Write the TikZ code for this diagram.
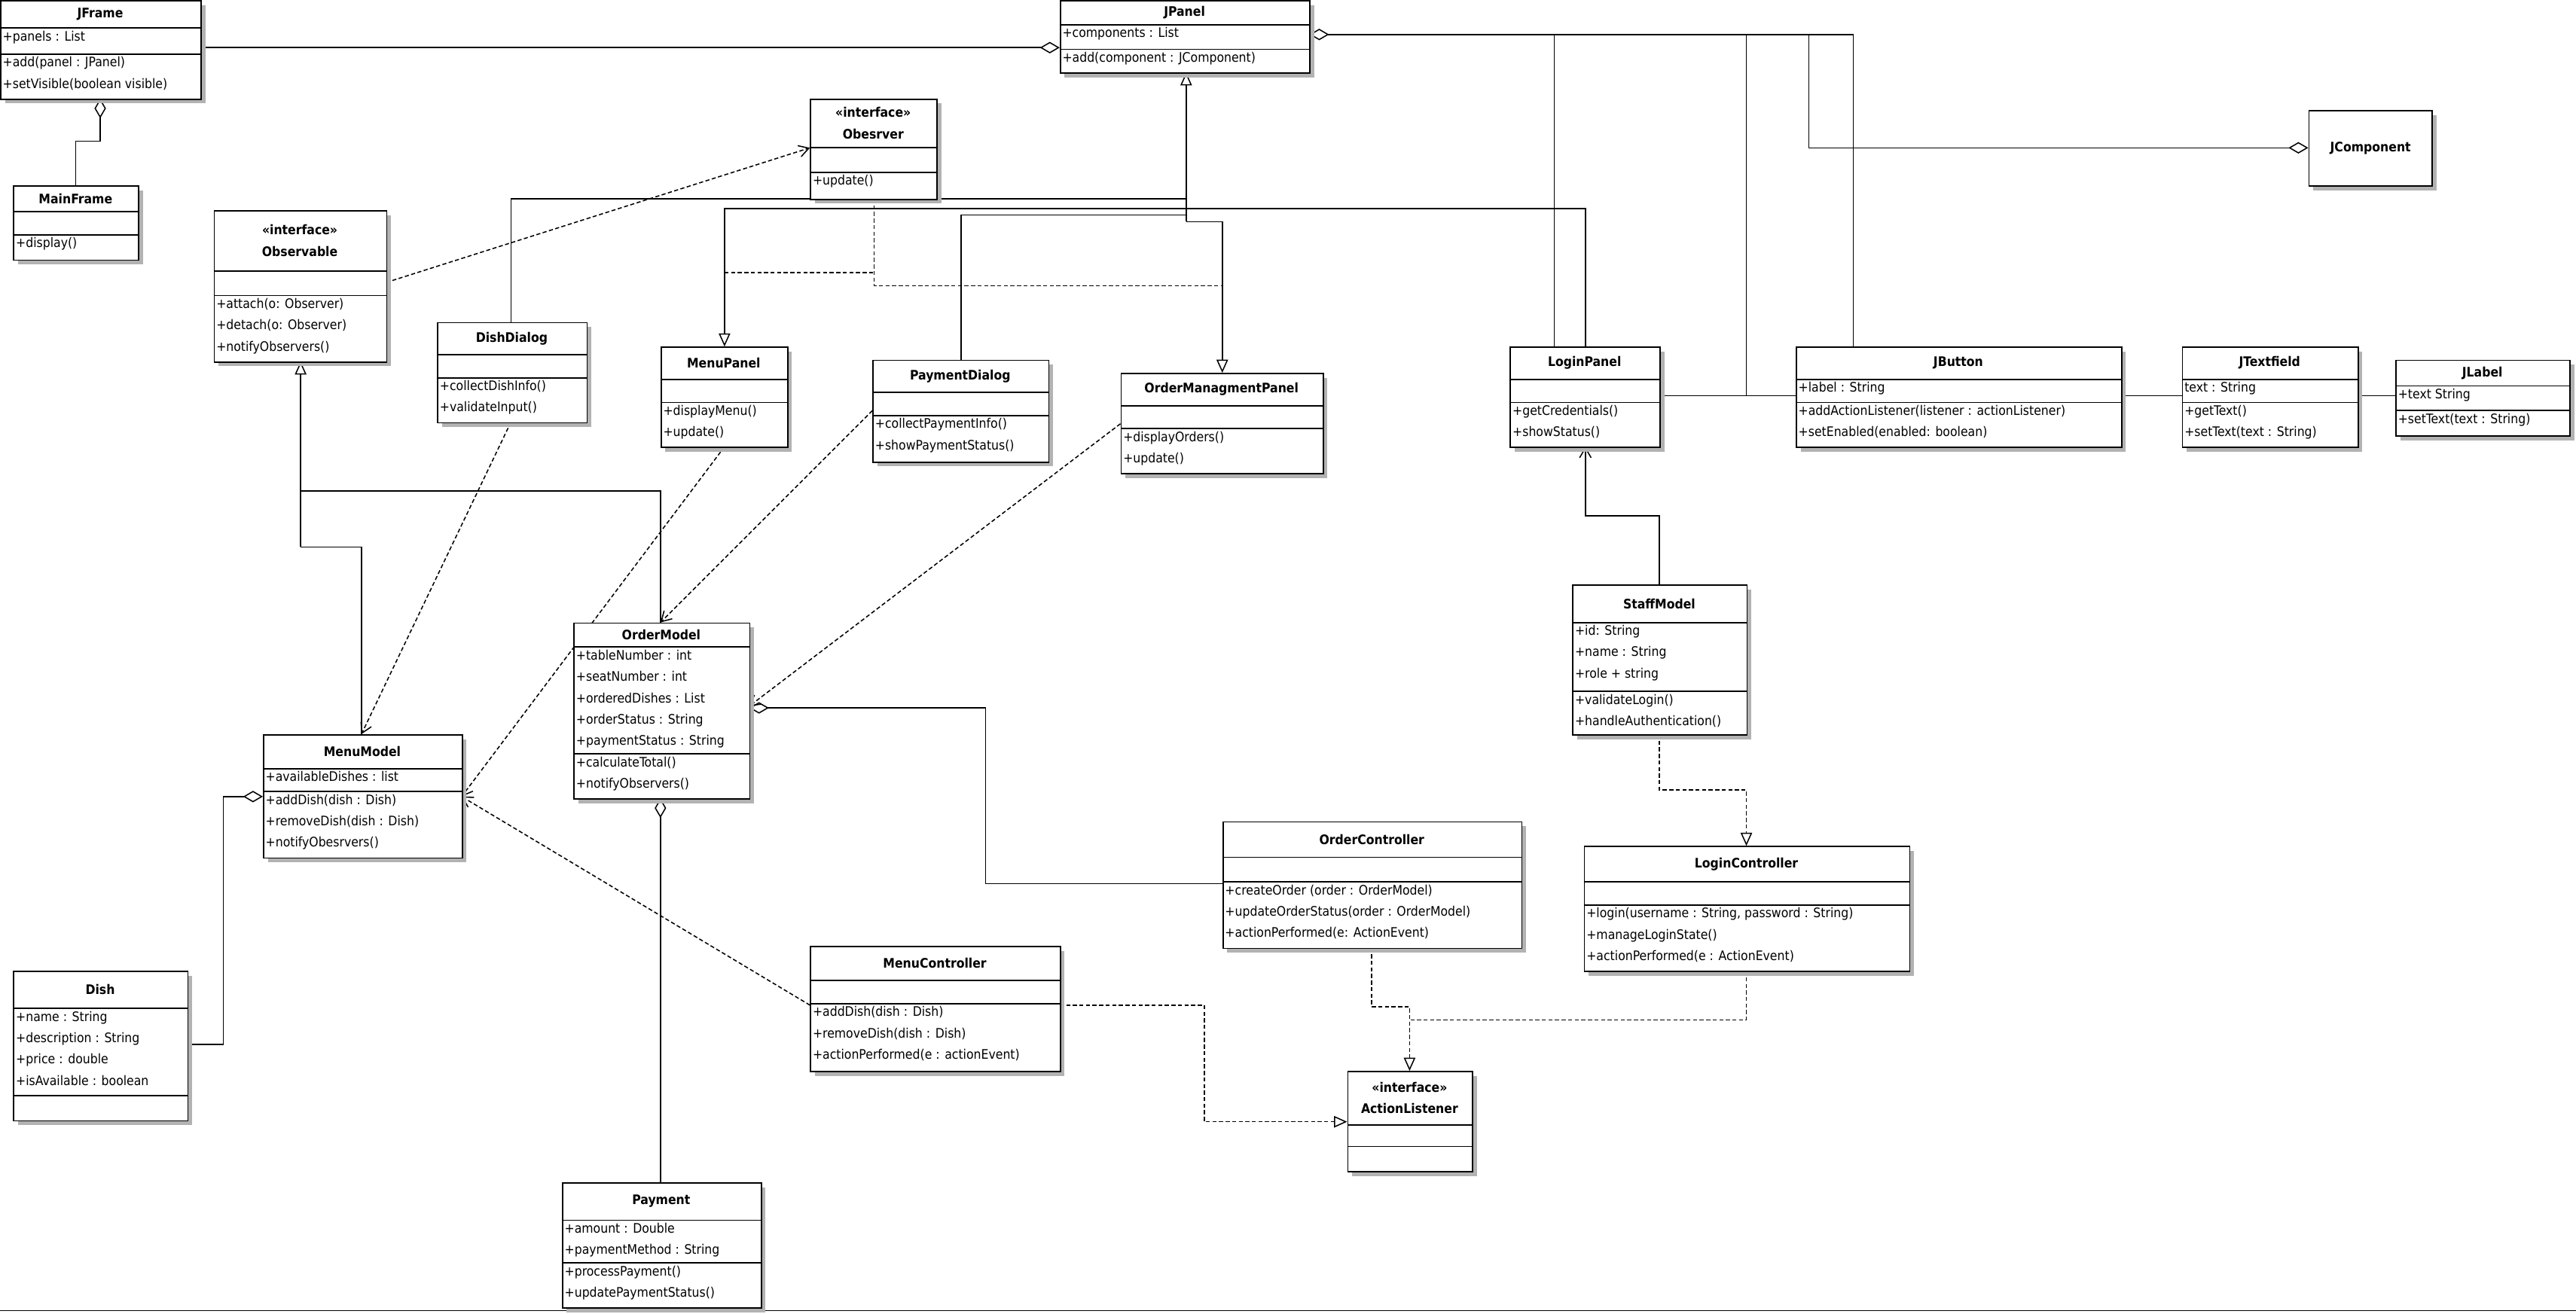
\documentclass[tikz,border=0pt]{standalone}
\usepackage{fontspec}
\setmainfont{DejaVu Sans Condensed}
\usetikzlibrary{arrows.meta,calc}
\tikzset{
  box/.style={draw,line width=0.8pt,fill=white,inner sep=0pt,anchor=north west},
  shad/.style={fill=black!30,draw=none},
  txt/.style={anchor=north west,align=left,inner sep=1pt,font=\fontsize{8}{13}\selectfont},
  ttl/.style={align=center,inner sep=0pt,font=\fontsize{8}{13}\selectfont\bfseries},
  ln/.style={line width=0.7pt},
  dsh/.style={line width=0.7pt,dash pattern=on 2.5pt off 1.5pt},
  gen/.style={-{Triangle[open,length=8pt,width=7pt]}},
  agg/.style={-{Diamond[open,length=12pt,width=7pt]}},
  dep/.style={-{Straight Barb[length=6pt,width=7pt]}}
}
% id x w y1 y2 y3 y4 title attrs
\newcommand\umlc[9]{%
  \fill[shad] (#2+3,#4+3) rectangle (#2+#3+3,#7+3);
  \node[box,minimum width=#3pt,minimum height=#7pt-#4pt] (#1) at (#2,#4) {};
  \draw[line width=0.8pt] (#2,#5) -- (#2+#3,#5) (#2,#6) -- (#2+#3,#6);
  \node[ttl] (#1-t) at (#2+#3/2,{(#4+#5)/2}) {#8};
  \node[txt] (#1-a) at (#2+0.5,#5+0.5) {#9};
  \xdef\lastx{#2}\xdef\lasty{#6}}
\newcommand\umlm[1]{\node[txt] at (\lastx+0.5,\lasty+0.5) {#1};}
\begin{document}
\begin{tikzpicture}[x=1pt,y=-1pt]
\useasboundingbox (0,0) rectangle (1568,800);
\fill[white] (0,0) rectangle (1568,800);
\draw[ln] (0,798) -- (1568,798);

% ---------- connectors ----------
% JFrame - JPanel
\draw[ln,agg] (122,29) -- (645,29);
% MainFrame - JFrame
\draw[ln,agg] (46,113) -- (46,86) -- (61,86) -- (61,60);
% JPanel components
\draw[ln,agg] (1128,211) -- (1128,21) -- (797,21);
\draw[ln] (946,21) -- (946,241) -- (1458,241);
\draw[ln] (1063,21) -- (1063,241);
\draw[ln] (1101,21) -- (1101,90);
\draw[ln,agg] (1101,90) -- (1405,90);
% JPanel generalization tree
\draw[ln,gen] (722,135) -- (722,44);
\draw[ln] (311,196) -- (311,121) -- (722,121);
\draw[ln,gen] (965,211) -- (965,127) -- (441,127) -- (441,211);
\draw[ln] (585,219) -- (585,131) -- (722,131);
\draw[ln,gen] (722,135) -- (744,135) -- (744,227);
% Observable -> Obesrver
\draw[dsh,dep] (235,172) -- (493,90);
\draw[dsh] (441,166) -- (532,166);
\draw[dsh] (532,121) -- (532,174) -- (744,174);
% Observable generalization
\draw[ln,gen] (183,333) -- (183,220);
\draw[ln] (183,333) -- (220,333) -- (220,447);
\draw[ln] (183,299) -- (402,299) -- (402,379);
% dependencies
\draw[dsh,dep] (311,257) -- (220,447);
\draw[dsh,dep] (441,272) -- (281,485);
\draw[dsh,dep] (531,250) -- (402,379);
\draw[dsh,dep] (682,258) -- (456,430);
\draw[dsh,dep] (493,612) -- (281,485);
% aggregations of models
\draw[ln,agg] (744,538) -- (600,538) -- (600,431) -- (456,431);
\draw[ln,agg] (402,720) -- (402,486);
\draw[ln,agg] (114,636) -- (136,636) -- (136,485) -- (160,485);
% StaffModel -> LoginPanel
\draw[ln,dep] (1010,356) -- (1010,314) -- (965,314) -- (965,272);
% StaffModel -> LoginController
\draw[dsh,gen] (1010,447) -- (1010,481) -- (1063,481) -- (1063,515);
% ActionListener realizations
\draw[dsh,gen] (835,577) -- (835,613) -- (858,613) -- (858,652);
\draw[dsh] (1063,591) -- (1063,621) -- (858,621);
\draw[dsh,gen] (645,612) -- (733,612) -- (733,683) -- (820,683);

% ---------- classes ----------
\umlc{jframe}{0}{122}{0}{17}{33}{60}{JFrame}{+panels : List}
\umlm{+add(panel : JPanel)\\+setVisible(boolean visible)}
\umlc{jpanel}{645}{152}{0}{15}{30}{44}{JPanel}{+components : List}
\umlm{+add(component : JComponent)}
\umlc{obs}{493}{77}{60}{90}{105}{121}{\texttt{}\fontsize{8}{12}\selectfont\bfseries <<interface>>\\Obesrver}{}
\umlm{+update()}
\umlc{mainframe}{8}{76}{113}{129}{143}{158}{MainFrame}{}
\umlm{+display()}
\umlc{observable}{130}{105}{128}{165}{180}{220}{<<interface>>\\Observable}{}
\umlm{+attach(o: Observer)\\+detach(o: Observer)\\+notifyObservers()}
\umlc{dishdialog}{266}{91}{196}{216}{230}{257}{DishDialog}{}
\umlm{+collectDishInfo()\\+validateInput()}
\umlc{menupanel}{402}{77}{211}{231}{245}{272}{MenuPanel}{}
\umlm{+displayMenu()\\+update()}
\umlc{paydialog}{531}{107}{219}{239}{253}{281}{PaymentDialog}{}
\umlm{+collectPaymentInfo()\\+showPaymentStatus()}
\umlc{omp}{682}{123}{227}{247}{261}{288}{OrderManagmentPanel}{}
\umlm{+displayOrders()\\+update()}
\umlc{loginpanel}{919}{91}{211}{231}{245}{272}{LoginPanel}{}
\umlm{+getCredentials()\\+showStatus()}
\umlc{jbutton}{1093}{198}{211}{231}{245}{272}{JButton}{+label : String}
\umlm{+addActionListener(listener : actionListener)\\+setEnabled(enabled: boolean)}
\umlc{jtext}{1328}{107}{211}{231}{245}{272}{JTextfield}{text : String}
\umlm{+getText()\\+setText(text : String)}
\umlc{jlabel}{1458}{106}{219}{235}{250}{265}{JLabel}{+text String}
\umlm{+setText(text : String)}
\fill[shad] (1408,70) rectangle (1483,116);
\node[box,minimum width=75pt,minimum height=46pt] (jcomp) at (1405,67) {};
\node[ttl] at (jcomp.center) {JComponent};
\umlc{staff}{957}{106}{356}{379}{421}{447}{StaffModel}{+id: String\\+name : String\\+role + string}
\umlm{+validateLogin()\\+handleAuthentication()}
\umlc{ordermodel}{349}{107}{379}{394}{459}{486}{OrderModel}{+tableNumber : int\\+seatNumber : int\\+orderedDishes : List\\+orderStatus : String\\+paymentStatus : String}
\umlm{+calculateTotal()\\+notifyObservers()}
\umlc{menumodel}{160}{121}{447}{468}{482}{522}{MenuModel}{+availableDishes : list}
\umlm{+addDish(dish : Dish)\\+removeDish(dish : Dish)\\+notifyObesrvers()}
\umlc{orderctrl}{744}{182}{500}{522}{537}{577}{OrderController}{}
\umlm{+createOrder (order : OrderModel)\\+updateOrderStatus(order : OrderModel)\\+actionPerformed(e: ActionEvent)}
\umlc{loginctrl}{964}{198}{515}{537}{551}{591}{LoginController}{}
\umlm{+login(username : String, password : String)\\+manageLoginState()\\+actionPerformed(e : ActionEvent)}
\umlc{menuctrl}{493}{152}{576}{597}{611}{652}{MenuController}{}
\umlm{+addDish(dish : Dish)\\+removeDish(dish : Dish)\\+actionPerformed(e : actionEvent)}
\umlc{actl}{820}{76}{652}{685}{698}{713}{<<interface>>\\ActionListener}{}
\umlc{dish}{8}{106}{591}{614}{667}{682}{Dish}{+name : String\\+description : String\\+price : double\\+isAvailable : boolean}
\umlc{payment}{342}{121}{720}{743}{769}{796}{Payment}{+amount : Double\\+paymentMethod : String}
\umlm{+processPayment()\\+updatePaymentStatus()}
\end{tikzpicture}
\end{document}
